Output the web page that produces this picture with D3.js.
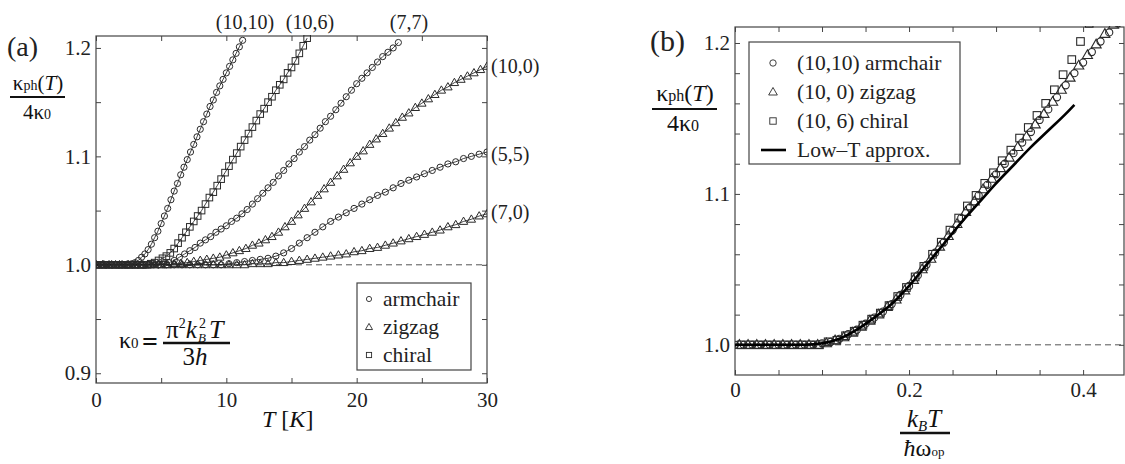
<!DOCTYPE html>
<html>
<head>
<meta charset="utf-8">
<script src="https://cdn.jsdelivr.net/npm/d3@7"></script>
<style>
  body { margin: 0; background: #fff; }
  svg, svg text { font-family: "Liberation Serif", "Times New Roman", serif; }
  .tick text { font-size: 21px; fill: #222; }
  .tick line { stroke: #444; }
</style>
</head>
<body>
<svg id="chart" width="1125" height="464"></svg>
<script>
// ---- panel (a): kappa_ph / 4 kappa_0 vs T [K], one [T, value] list per tube ----
var tube1010 = [[0,1.000],[0.25,1.000],[0.5,1.000],[0.75,1.000],[1,1.000],[1.25,1.000],[1.5,1.000],[1.75,1.000],[2,1.000],[2.25,1.000],[2.5,1.000],[2.75,1.001],[3,1.002],[3.25,1.004],[3.5,1.007],[3.75,1.010],[4,1.014],[4.25,1.019],[4.5,1.025],[4.75,1.031],[5,1.038],[5.25,1.045],[5.5,1.052],[5.75,1.060],[6,1.068],[6.25,1.075],[6.5,1.083],[6.75,1.090],[7,1.097],[7.25,1.104],[7.5,1.111],[7.75,1.118],[8,1.125],[8.25,1.132],[8.5,1.139],[8.75,1.146],[9,1.152],[9.25,1.159],[9.5,1.165],[9.75,1.171],[10,1.177],[10.25,1.183],[10.5,1.189],[10.75,1.195],[11,1.201],[11.25,1.207]];
var tube106 = [[0,1.000],[0.3,1.000],[0.6,1.000],[0.9,1.000],[1.2,1.000],[1.5,1.000],[1.8,1.000],[2.1,1.000],[2.4,1.000],[2.7,1.000],[3.0,1.000],[3.3,1.000],[3.6,1.000],[3.9,1.000],[4.2,1.001],[4.5,1.002],[4.8,1.004],[5.1,1.006],[5.4,1.008],[5.7,1.011],[6.0,1.015],[6.3,1.020],[6.6,1.025],[6.9,1.030],[7.2,1.035],[7.5,1.040],[7.8,1.045],[8.1,1.050],[8.4,1.056],[8.7,1.062],[9.0,1.067],[9.3,1.073],[9.6,1.079],[9.9,1.085],[10.2,1.091],[10.5,1.097],[10.8,1.103],[11.1,1.109],[11.4,1.115],[11.7,1.121],[12.0,1.127],[12.3,1.133],[12.6,1.139],[12.9,1.144],[13.2,1.150],[13.5,1.155],[13.8,1.161],[14.1,1.166],[14.4,1.171],[14.7,1.177],[15.0,1.182],[15.3,1.188],[15.6,1.195],[15.9,1.202],[16.2,1.209]];
var tube77 = [[0,1.000],[0.4,1.000],[0.8,1.000],[1.2,1.000],[1.6,1.000],[2.0,1.000],[2.4,1.000],[2.8,1.000],[3.2,1.000],[3.6,1.000],[4.0,1.000],[4.4,1.000],[4.8,1.000],[5.2,1.001],[5.6,1.002],[6.0,1.004],[6.4,1.007],[6.8,1.010],[7.2,1.013],[7.6,1.016],[8.0,1.020],[8.4,1.023],[8.8,1.026],[9.2,1.030],[9.6,1.033],[10.0,1.036],[10.4,1.040],[10.8,1.043],[11.2,1.047],[11.6,1.051],[12.0,1.056],[12.4,1.061],[12.8,1.066],[13.2,1.071],[13.6,1.076],[14.0,1.082],[14.4,1.087],[14.8,1.093],[15.2,1.098],[15.6,1.104],[16.0,1.109],[16.4,1.115],[16.8,1.120],[17.2,1.126],[17.6,1.132],[18.0,1.137],[18.4,1.143],[18.8,1.149],[19.2,1.155],[19.6,1.161],[20.0,1.167],[20.4,1.172],[20.8,1.177],[21.2,1.182],[21.6,1.187],[22.0,1.192],[22.4,1.196],[22.8,1.200],[23.2,1.205]];
var tube100 = [[0,1.000],[0.5,1.000],[1,1.000],[1.5,1.000],[2,1.000],[2.5,1.000],[3,1.000],[3.5,1.000],[4,1.000],[4.5,1.000],[5,1.000],[5.5,1.000],[6,1.001],[6.5,1.001],[7,1.002],[7.5,1.003],[8,1.004],[8.5,1.005],[9,1.006],[9.5,1.007],[10,1.009],[10.5,1.011],[11,1.013],[11.5,1.015],[12,1.018],[12.5,1.020],[13,1.023],[13.5,1.026],[14,1.030],[14.5,1.035],[15,1.040],[15.5,1.046],[16,1.052],[16.5,1.058],[17,1.064],[17.5,1.070],[18,1.076],[18.5,1.082],[19,1.088],[19.5,1.094],[20,1.100],[20.5,1.105],[21,1.111],[21.5,1.116],[22,1.121],[22.5,1.126],[23,1.131],[23.5,1.136],[24,1.140],[24.5,1.145],[25,1.149],[25.5,1.153],[26,1.157],[26.5,1.161],[27,1.164],[27.5,1.168],[28,1.171],[28.5,1.174],[29,1.177],[29.5,1.180],[30,1.183]];
var tube55 = [[0,1.000],[0.6,1.000],[1.2,1.000],[1.8,1.000],[2.4,1.000],[3.0,1.000],[3.6,1.000],[4.2,1.000],[4.8,1.000],[5.4,1.000],[6.0,1.000],[6.6,1.000],[7.2,1.000],[7.8,1.000],[8.4,1.000],[9.0,1.000],[9.6,1.000],[10.2,1.001],[10.8,1.002],[11.4,1.003],[12.0,1.004],[12.6,1.005],[13.2,1.006],[13.8,1.008],[14.4,1.011],[15.0,1.015],[15.6,1.020],[16.2,1.025],[16.8,1.030],[17.4,1.035],[18.0,1.040],[18.6,1.044],[19.2,1.048],[19.8,1.052],[20.4,1.056],[21.0,1.060],[21.6,1.064],[22.2,1.067],[22.8,1.071],[23.4,1.075],[24.0,1.078],[24.6,1.081],[25.2,1.084],[25.8,1.087],[26.4,1.090],[27.0,1.093],[27.6,1.095],[28.2,1.098],[28.8,1.100],[29.4,1.102],[30.0,1.104]];
var tube70 = [[0,1.000],[0.6,1.000],[1.2,1.000],[1.8,1.000],[2.4,1.000],[3.0,1.000],[3.6,1.000],[4.2,1.000],[4.8,1.000],[5.4,1.000],[6.0,1.000],[6.6,1.000],[7.2,1.000],[7.8,1.000],[8.4,1.000],[9.0,1.000],[9.6,1.000],[10.2,1.000],[10.8,1.000],[11.4,1.000],[12.0,1.001],[12.6,1.001],[13.2,1.001],[13.8,1.002],[14.4,1.002],[15.0,1.003],[15.6,1.004],[16.2,1.005],[16.8,1.006],[17.4,1.007],[18.0,1.008],[18.6,1.009],[19.2,1.010],[19.8,1.012],[20.4,1.013],[21.0,1.015],[21.6,1.016],[22.2,1.018],[22.8,1.020],[23.4,1.022],[24.0,1.024],[24.6,1.026],[25.2,1.028],[25.8,1.030],[26.4,1.032],[27.0,1.035],[27.6,1.037],[28.2,1.040],[28.8,1.042],[29.4,1.045],[30.0,1.047]];

// ---- panel (b): same quantity vs k_B T / hbar omega_op ----
var arm1010 = [[0,1.000],[0.01,1.000],[0.02,1.000],[0.03,1.000],[0.04,1.000],[0.05,1.000],[0.06,1.000],[0.07,1.000],[0.08,1.000],[0.09,1.000],[0.10,1.001],[0.11,1.002],[0.12,1.004],[0.13,1.007],[0.14,1.010],[0.15,1.014],[0.16,1.018],[0.17,1.022],[0.18,1.027],[0.19,1.033],[0.20,1.039],[0.21,1.046],[0.22,1.053],[0.23,1.061],[0.24,1.068],[0.25,1.076],[0.26,1.084],[0.27,1.091],[0.28,1.099],[0.29,1.106],[0.30,1.113],[0.31,1.120],[0.32,1.127],[0.33,1.134],[0.34,1.141],[0.35,1.149],[0.36,1.156],[0.37,1.164],[0.38,1.172],[0.39,1.180],[0.40,1.187],[0.41,1.194],[0.42,1.201],[0.43,1.207],[0.44,1.213]];
var zig100 = [[0.005,1.000],[0.015,1.000],[0.025,1.000],[0.035,1.000],[0.045,1.000],[0.055,1.000],[0.065,1.000],[0.075,1.000],[0.085,1.000],[0.095,1.000],[0.105,1.001],[0.115,1.003],[0.125,1.005],[0.135,1.008],[0.145,1.012],[0.155,1.016],[0.165,1.020],[0.175,1.025],[0.185,1.030],[0.195,1.036],[0.205,1.043],[0.215,1.050],[0.225,1.057],[0.235,1.065],[0.245,1.072],[0.255,1.080],[0.265,1.088],[0.275,1.095],[0.285,1.103],[0.295,1.110],[0.305,1.117],[0.315,1.124],[0.325,1.131],[0.335,1.138],[0.345,1.146],[0.355,1.153],[0.365,1.161],[0.375,1.169],[0.385,1.177],[0.395,1.185],[0.405,1.192],[0.415,1.199],[0.425,1.206],[0.435,1.212]];
var chi106 = [[0.007,1.000],[0.017,1.000],[0.027,1.000],[0.037,1.000],[0.047,1.000],[0.057,1.000],[0.067,1.000],[0.077,1.000],[0.087,1.000],[0.097,1.000],[0.107,1.002],[0.117,1.003],[0.127,1.006],[0.137,1.009],[0.147,1.013],[0.157,1.017],[0.167,1.021],[0.177,1.026],[0.187,1.032],[0.197,1.038],[0.207,1.045],[0.217,1.052],[0.227,1.060],[0.237,1.068],[0.247,1.076],[0.257,1.084],[0.267,1.092],[0.277,1.099],[0.287,1.107],[0.297,1.114],[0.307,1.122],[0.317,1.129],[0.327,1.137],[0.337,1.144],[0.347,1.152],[0.357,1.160],[0.367,1.169],[0.377,1.179],[0.387,1.189],[0.397,1.201],[0.407,1.213]];
var lowT = [[0,1.000],[0.02,1.000],[0.04,1.000],[0.06,1.000],[0.08,1.000],[0.10,1.001],[0.12,1.004],[0.14,1.010],[0.16,1.018],[0.18,1.027],[0.20,1.039],[0.22,1.053],[0.24,1.067],[0.26,1.081],[0.28,1.094],[0.30,1.107],[0.32,1.119],[0.34,1.131],[0.36,1.142],[0.38,1.153],[0.39,1.159]];

// ticks
var xTicksA = [0, 5, 10, 15, 20, 25, 30], xLabelsA = [0, 10, 20, 30];
var yTicksA = [0.9, 0.95, 1.0, 1.05, 1.1, 1.15, 1.2], yLabelsA = [0.9, 1.0, 1.1, 1.2];
var xTicksB = [0, 0.05, 0.1, 0.15, 0.2, 0.25, 0.3, 0.35, 0.4], xLabelsB = [0, 0.2, 0.4];
var yTicksB = [1.0, 1.02, 1.04, 1.06, 1.08, 1.1, 1.12, 1.14, 1.16, 1.18, 1.2], yLabelsB = [1.0, 1.1, 1.2];

var svg = d3.select("#chart");
var ink = "#2a2a2a";

var xA = d3.scaleLinear().domain([0, 30]).range([96, 487]);
var yA = d3.scaleLinear().domain([0.891, 1.211]).range([383, 36]);
var xB = d3.scaleLinear().domain([0, 0.447]).range([735, 1124]);
var yB = d3.scaleLinear().domain([0.980, 1.2106]).range([375, 27]);

var f1 = d3.format(".1f");

function drawAxes(g, x, y, xt, xl, yt, yl, xfmt, pad) {
  var x0 = x.range()[0], x1 = x.range()[1], y0 = y.range()[0], y1 = y.range()[1];
  g.append("g").attr("transform", "translate(0," + y0 + ")")
    .call(d3.axisBottom(x).tickValues(xt).tickSize(-5).tickPadding(pad)
      .tickFormat(function(d) { return xl.indexOf(d) >= 0 ? xfmt(d) : ""; }));
  g.append("g").attr("transform", "translate(0," + y1 + ")")
    .call(d3.axisTop(x).tickValues(xt).tickSize(-5).tickFormat(""));
  g.append("g").attr("transform", "translate(" + x0 + ",0)")
    .call(d3.axisLeft(y).tickValues(yt).tickSize(-5).tickPadding(5)
      .tickFormat(function(d) { return yl.indexOf(d) >= 0 ? f1(d) : ""; }));
  g.append("g").attr("transform", "translate(" + x1 + ",0)")
    .call(d3.axisRight(y).tickValues(yt).tickSize(-5).tickFormat(""));
  g.selectAll(".domain").remove();
  // axis groups carry font-family="sans-serif"; drop it so the serif from css applies
  g.selectAll("g").attr("font-family", null).attr("font-size", null);
  g.append("rect").attr("x", x0).attr("y", y1).attr("width", x1 - x0).attr("height", y0 - y1)
    .attr("fill", "none").attr("stroke", "#444").attr("stroke-width", 1.2);
}

function clip(id, x, y) {
  svg.append("clipPath").attr("id", id).append("rect")
    .attr("x", x.range()[0]).attr("y", y.range()[1] - 1)
    .attr("width", x.range()[1] - x.range()[0]).attr("height", y.range()[0] - y.range()[1] + 1);
}
clip("clipA", xA, yA);
clip("clipB", xB, yB);

function markers(g, data, x, y, shape, size, sw) {
  var sel = g.selectAll(null).data(data).enter();
  sw = sw || 0.9;
  if (shape === "circle") {
    sel.append("circle").attr("cx", function(d) { return x(d[0]); }).attr("cy", function(d) { return y(d[1]); })
      .attr("r", size).attr("fill", "none").attr("stroke", ink).attr("stroke-width", sw);
  } else if (shape === "square") {
    sel.append("rect").attr("x", function(d) { return x(d[0]) - size; }).attr("y", function(d) { return y(d[1]) - size; })
      .attr("width", size * 2).attr("height", size * 2).attr("fill", "none").attr("stroke", ink).attr("stroke-width", sw);
  } else {
    var tri = d3.symbol().type(d3.symbolTriangle).size(size * size * 3.2);
    sel.append("path").attr("d", tri)
      .attr("transform", function(d) { return "translate(" + x(d[0]) + "," + (y(d[1]) + 0.5) + ")"; })
      .attr("fill", "none").attr("stroke", ink).attr("stroke-width", sw);
  }
}

// ---------- panel (a) ----------
var gA = svg.append("g");
drawAxes(gA, xA, yA, xTicksA, xLabelsA, yTicksA, yLabelsA, function(d) { return d; }, 9);

gA.append("line").attr("x1", xA(0)).attr("x2", xA(30)).attr("y1", yA(1)).attr("y2", yA(1))
  .attr("stroke", "#555").attr("stroke-dasharray", "6,4");

var dataA = gA.append("g").attr("clip-path", "url(#clipA)");
var lineA = d3.line().x(function(d) { return xA(d[0]); }).y(function(d) { return yA(d[1]); });
var seriesA = [[tube1010, "circle"], [tube106, "square"], [tube77, "circle"], [tube100, "tri"], [tube55, "circle"], [tube70, "tri"]];
seriesA.forEach(function(s) {
  dataA.append("path").datum(s[0]).attr("d", lineA).attr("fill", "none").attr("stroke", "#111").attr("stroke-width", 0.8);
});
seriesA.forEach(function(s) {
  markers(dataA, s[0], xA, yA, s[1], s[1] === "square" ? 3.3 : 3.1, 1);
});

// tube labels
var tubeLabels = [["(10,10)", 245, 29, "middle"], ["(10,6)", 310, 29, "middle"], ["(7,7)", 409, 29, "middle"],
                  ["(10,0)", 491, 73, "start"], ["(5,5)", 491, 161, "start"], ["(7,0)", 491, 219, "start"]];
svg.selectAll(null).data(tubeLabels).enter().append("text")
  .attr("x", function(d) { return d[1]; }).attr("y", function(d) { return d[2]; })
  .attr("text-anchor", function(d) { return d[3]; })
  .attr("font-size", 20).attr("fill", "#222").text(function(d) { return d[0]; });

// legend (a)
gA.append("rect").attr("x", 357).attr("y", 283).attr("width", 114).attr("height", 87)
  .attr("fill", "#fff").attr("stroke", "#444").attr("stroke-width", 1.2);
var legA = [["armchair", "circle"], ["zigzag", "tri"], ["chiral", "square"]];
legA.forEach(function(l, i) {
  var yy = 299 + i * 28;
  markers(gA, [[0, 0]], function() { return 369; }, function() { return yy; }, l[1], 2.6);
  gA.append("text").attr("x", 383).attr("y", yy + 7).attr("font-size", 21.5).attr("fill", "#222").text(l[0]);
});

// (a) label and axis titles
svg.append("text").attr("x", 7).attr("y", 56).attr("font-size", 28).attr("fill", "#222").text("(a)");
var yl = svg.append("text").attr("x", 38).attr("y", 90).attr("text-anchor", "middle").attr("font-size", 21).attr("fill", "#111");
yl.append("tspan").text("κ");
yl.append("tspan").attr("font-size", 14).text("ph");
yl.append("tspan").text("(");
yl.append("tspan").attr("font-style", "italic").text("T");
yl.append("tspan").text(")");
svg.append("line").attr("x1", 10).attr("x2", 65).attr("y1", 97).attr("y2", 97).attr("stroke", "#111").attr("stroke-width", 2);
var yd = svg.append("text").attr("x", 37).attr("y", 119).attr("text-anchor", "middle").attr("font-size", 21).attr("fill", "#111");
yd.append("tspan").text("4κ");
yd.append("tspan").attr("font-size", 14).text("0");

var xt = svg.append("text").attr("x", 262).attr("y", 427).attr("font-size", 24).attr("fill", "#111");
xt.append("tspan").attr("font-style", "italic").text("T");
xt.append("tspan").text(" [");
xt.append("tspan").attr("font-style", "italic").text("K");
xt.append("tspan").text("]");

// kappa_0 formula
var k0 = svg.append("text").attr("x", 119).attr("y", 348).attr("font-size", 24).attr("fill", "#111");
k0.append("tspan").text("κ");
k0.append("tspan").attr("font-size", 15).text("0");
svg.append("text").attr("x", 142).attr("y", 351).attr("font-size", 28).attr("font-weight", "bold").attr("fill", "#111").text("=");
var num = svg.append("text").attr("x", 166).attr("y", 338).attr("font-size", 25).attr("fill", "#111");
num.append("tspan").text("π");
num.append("tspan").attr("font-size", 14).attr("dy", -10).text("2");
num.append("tspan").attr("font-style", "italic").attr("dy", 10).text("k");
svg.append("text").attr("x", 199).attr("y", 328).attr("font-size", 14).attr("fill", "#111").text("2");
svg.append("text").attr("x", 198).attr("y", 342).attr("font-size", 13).attr("font-style", "italic").attr("fill", "#111").text("B");
svg.append("text").attr("x", 209).attr("y", 338).attr("font-size", 26).attr("font-style", "italic").attr("fill", "#111").text("T");
svg.append("line").attr("x1", 163).attr("x2", 230).attr("y1", 343).attr("y2", 343).attr("stroke", "#111").attr("stroke-width", 2.5);
var den = svg.append("text").attr("x", 195).attr("y", 365).attr("text-anchor", "middle").attr("font-size", 25).attr("fill", "#111");
den.append("tspan").text("3");
den.append("tspan").attr("font-style", "italic").text("h");

// ---------- panel (b) ----------
var gB = svg.append("g");
drawAxes(gB, xB, yB, xTicksB, xLabelsB, yTicksB, yLabelsB, function(d) { return d === 0 ? "0" : f1(d); }, 7);

gB.append("line").attr("x1", xB(0)).attr("x2", xB.range()[1]).attr("y1", yB(1)).attr("y2", yB(1))
  .attr("stroke", "#555").attr("stroke-dasharray", "6,4");

var dataB = gB.append("g").attr("clip-path", "url(#clipB)");
markers(dataB, arm1010, xB, yB, "circle", 3.6, 1.1);
markers(dataB, zig100, xB, yB, "tri", 3.7, 1.1);
markers(dataB, chi106, xB, yB, "square", 3.8, 1.1);
var lineB = d3.line().x(function(d) { return xB(d[0]); }).y(function(d) { return yB(d[1]); }).curve(d3.curveMonotoneX);
dataB.append("path").datum(lowT).attr("d", lineB).attr("fill", "none").attr("stroke", "#000").attr("stroke-width", 2.6);

// legend (b)
gB.append("rect").attr("x", 749).attr("y", 42).attr("width", 211).attr("height", 122)
  .attr("fill", "#fff").attr("stroke", "#444").attr("stroke-width", 1.2);
var legB = [["(10,10) armchair", "circle"], ["(10, 0) zigzag", "tri"], ["(10, 6) chiral", "square"], ["Low–T approx.", "line"]];
legB.forEach(function(l, i) {
  var yy = 63 + i * 29;
  if (l[1] === "line") {
    gB.append("line").attr("x1", 761).attr("x2", 786).attr("y1", yy).attr("y2", yy).attr("stroke", "#000").attr("stroke-width", 2.6);
  } else {
    markers(gB, [[0, 0]], function() { return 773; }, function() { return yy; }, l[1], 3.2);
  }
  gB.append("text").attr("x", 797).attr("y", yy + 7).attr("font-size", 21.5).attr("fill", "#222").text(l[0]);
});

svg.append("text").attr("x", 650).attr("y", 51).attr("font-size", 30).attr("fill", "#222").text("(b)");
var ylb = svg.append("text").attr("x", 685).attr("y", 101).attr("text-anchor", "middle").attr("font-size", 24).attr("fill", "#111");
ylb.append("tspan").text("κ");
ylb.append("tspan").attr("font-size", 16).text("ph");
ylb.append("tspan").text("(");
ylb.append("tspan").attr("font-style", "italic").text("T");
ylb.append("tspan").text(")");
svg.append("line").attr("x1", 652).attr("x2", 717).attr("y1", 109).attr("y2", 109).attr("stroke", "#111").attr("stroke-width", 2);
var ydb = svg.append("text").attr("x", 683).attr("y", 131).attr("text-anchor", "middle").attr("font-size", 24).attr("fill", "#111");
ydb.append("tspan").text("4κ");
ydb.append("tspan").attr("font-size", 16).text("0");

var xnb = svg.append("text").attr("x", 924).attr("y", 427).attr("text-anchor", "middle").attr("font-size", 25).attr("fill", "#111").attr("font-style", "italic");
xnb.append("tspan").text("k");
xnb.append("tspan").attr("font-size", 15).attr("dy", 4).text("B");
xnb.append("tspan").attr("dy", -4).text("T");
svg.append("line").attr("x1", 900).attr("x2", 950).attr("y1", 433).attr("y2", 433).attr("stroke", "#111").attr("stroke-width", 2.5);
var xdb = svg.append("text").attr("x", 924).attr("y", 456).attr("text-anchor", "middle").attr("font-size", 24).attr("fill", "#111");
xdb.append("tspan").attr("font-style", "italic").text("ħ");
xdb.append("tspan").text("ω");
xdb.append("tspan").attr("font-size", 13).text("op");
</script>
</body>
</html>
